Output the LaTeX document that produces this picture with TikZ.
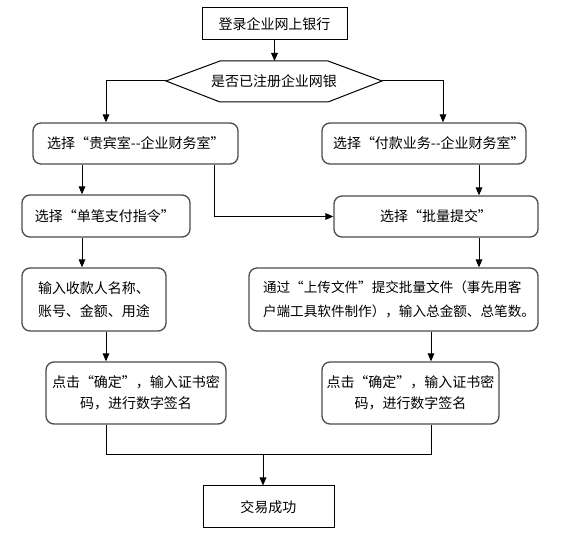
\documentclass[tikz,border=0pt]{standalone}
\usepackage{fontspec}
\setmainfont{Noto Sans CJK SC}
\usetikzlibrary{arrows.meta}
\begin{document}
\begin{tikzpicture}[x=0.75pt,y=-0.75pt,
  rbox/.style={draw=black!70, line width=1pt, rounded corners=6pt, inner ysep=0pt},
  sbox/.style={draw=black, line width=0.75pt, inner sep=0pt},
  arr/.style={-{Triangle[length=6pt,width=5pt]}, line width=0.75pt},
  line/.style={line width=0.75pt},
  every node/.style={font=\fontsize{10.5pt}{17pt}\selectfont}]
\useasboundingbox (0,0) rectangle (562,538);
% nodes
\node[sbox, minimum width=108.75pt, minimum height=24pt] (top) at (274.5,24) {登录企业网上银行};
\draw[line] (166,81) -- (220,61) -- (328,61) -- (382,81) -- (328,102) -- (220,102) -- cycle;
\node (hex) at (274,81.5) {是否已注册企业网银};
\coordinate (hexL) at (166,81);
\coordinate (hexR) at (382,81);
\coordinate (hexT) at (274.5,61);
\node[rbox, minimum height=30.75pt, inner xsep=10.5pt, text width=132.75pt, align=left] (A1) at (135.5,143.5) {\mbox{选择“贵宾室-\kern0pt-企业财务室”}};
\node[rbox, minimum height=30.75pt, inner xsep=8.25pt, text width=136.5pt, align=left] (B1) at (424,143.5) {\mbox{选择“付款业务-\kern0pt-企业财务室”}};
\node[rbox, minimum height=31.5pt, inner xsep=9.75pt, text width=106.5pt, align=left] (A2) at (106,216) {\mbox{选择“单笔支付指令”}};
\node[rbox, minimum height=30.75pt, minimum width=153pt] (B2) at (436,216.5) {选择“批量提交”};
\node[rbox, minimum height=47.25pt, inner xsep=12pt, text width=84pt, align=left, font=\fontsize{10.5pt}{17.5pt}\selectfont] (A3) at (94,299.5) {\mbox{输入收款人名称、}\\\mbox{账号、金额、用途}};
\node[rbox, minimum height=47.25pt, inner xsep=10.5pt, text width=195.75pt, align=left, font=\fontsize{10.2pt}{18.5pt}\selectfont] (B3) at (393.5,299.5) {\mbox{通过“上传文件”提交批量文件（事先用客}\\\mbox{户端工具软件制作），输入总金额、总笔数。}};
\node[rbox, minimum height=46.5pt, minimum width=135pt, align=center, font=\fontsize{10.5pt}{15.5pt}\selectfont] (A4) at (136,393) {点击“确定”，输入证书密\\码，进行数字签名};
\node[rbox, minimum height=46.5pt, minimum width=132.75pt, align=center, font=\fontsize{10.5pt}{15.5pt}\selectfont] (B4) at (410.5,393) {点击“确定”，输入证书密\\码，进行数字签名};
\node[sbox, minimum width=98.25pt, minimum height=31.5pt] (fin) at (268.5,507) {交易成功};
% column coordinates
\coordinate (c1) at (106,0);
\coordinate (c2) at (82,0);
\coordinate (c3) at (214,0);
\coordinate (c4) at (443,0);
\coordinate (c5) at (479,0);
\coordinate (c6) at (431,0);
\coordinate (c7) at (263,0);
\coordinate (m) at (0,455);
% connectors
\draw[arr] (top.south -| hexT) -- (hexT);
\draw[arr] (hexL) -| (c1 |- A1.north);
\draw[arr] (hexR) -| (c4 |- B1.north);
\draw[arr] (c2 |- A1.south) -- (c2 |- A2.north);
\draw[arr] (c3 |- A1.south) |- (B2.west);
\draw[arr] (c5 |- B1.south) -- (c5 |- B2.north);
\draw[arr] (c2 |- A2.south) -- (c2 |- A3.north);
\draw[arr] (c5 |- B2.south) -- (c5 |- B3.north);
\draw[arr] (c1 |- A3.south) -- (c1 |- A4.north);
\draw[arr] (c6 |- B3.south) -- (c6 |- B4.north);
\draw[line] (c1 |- A4.south) -- (c1 |- m) -- (c6 |- m) -- (c6 |- B4.south);
\draw[arr] (c7 |- m) -- (c7 |- fin.north);
\end{tikzpicture}
\end{document}
